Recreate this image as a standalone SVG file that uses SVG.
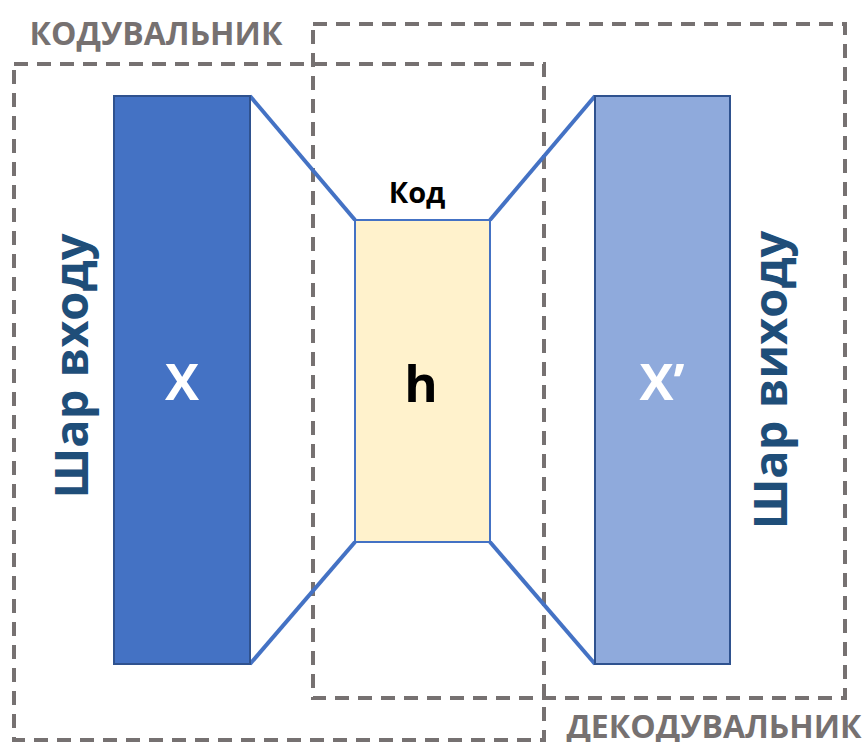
<svg xmlns="http://www.w3.org/2000/svg" width="865" height="742" viewBox="0 0 865 742">
<style>
.box{fill:none;stroke:#767171;stroke-width:4;stroke-dasharray:14 9}
.lbl{font-family:"Open Sans","Noto Sans",sans-serif;font-weight:bold;fill:#767171;font-size:32px}
.side{font-family:"Open Sans","Noto Sans",sans-serif;font-weight:bold;fill:#1F4E79;font-size:47px}
.con{stroke:#4472C4;stroke-width:4;fill:none}
.big{font-family:"Open Sans","Noto Sans",sans-serif;font-weight:bold;font-size:51px}
</style>
<rect width="865" height="742" fill="#fff"/>
<g id="encoder-box">
<rect class="box" x="14" y="64" width="530" height="676"/>
<text class="lbl" x="156" y="45" text-anchor="middle">КОДУВАЛЬНИК</text>
</g>
<g id="decoder-box">
<rect class="box" x="313" y="24" width="532" height="674"/>
<text class="lbl" x="714" y="738" text-anchor="middle">ДЕКОДУВАЛЬНИК</text>
</g>
<g id="connectors">
<line class="con" x1="250" y1="96" x2="355" y2="220"/>
<line class="con" x1="250" y1="664" x2="355" y2="542"/>
<line class="con" x1="490" y1="220" x2="595" y2="96"/>
<line class="con" x1="490" y1="542" x2="595" y2="664"/>
</g>
<g id="input">
<rect x="114" y="96" width="136" height="568" fill="#4472C4" stroke="#2F528F" stroke-width="2"/>
<text class="big" x="182" y="400" text-anchor="middle" fill="#fff">X</text>
<text class="side" transform="translate(88,366) rotate(-90)" text-anchor="middle">Шар входу</text>
</g>
<g id="code">
<rect x="355" y="220" width="135" height="322" fill="#FFF2CC" stroke="#4472C4" stroke-width="2"/>
<text class="big" x="421" y="402" text-anchor="middle" fill="#000" font-size="52">h</text>
<text x="417" y="203" text-anchor="middle" font-family="Open Sans,Noto Sans,sans-serif" font-weight="bold" font-size="29" fill="#000">Код</text>
</g>
<g id="output">
<rect x="595" y="96" width="135" height="568" fill="#8FAADC" stroke="#2F528F" stroke-width="2"/>
<text class="big" x="662" y="400" text-anchor="middle" fill="#fff">X’</text>
<text class="side" transform="translate(787,380) rotate(-90)" text-anchor="middle">Шар виходу</text>
</g>
</svg>
